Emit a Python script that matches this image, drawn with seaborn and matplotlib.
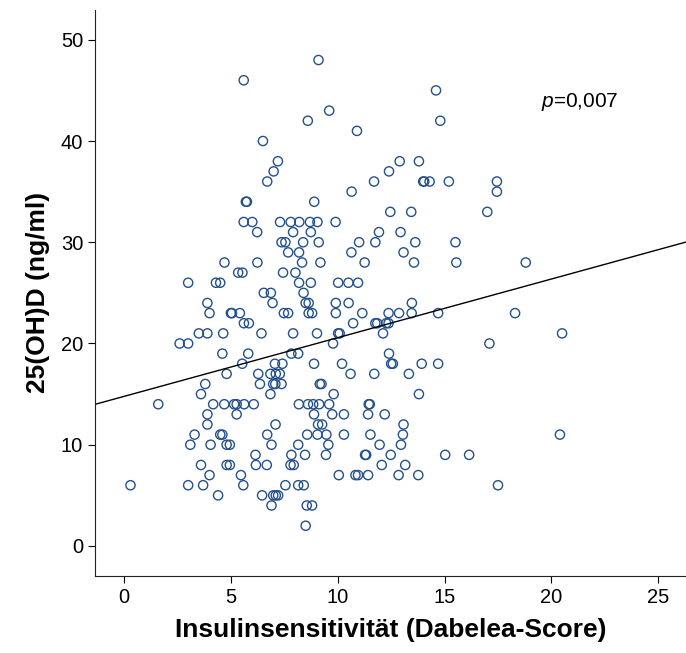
import numpy as np
import pandas as pd
import seaborn as sns
import matplotlib.pyplot as plt

ohd_levels = [48, 46, 45, 43, 42, 41, 40, 38, 37, 36, 35, 34, 33, 32, 31, 30, 29, 28,
              27, 26, 25, 24, 23, 22, 21, 20, 19, 18, 17, 16, 15, 14, 13, 12, 11, 10,
              9, 8, 7, 6, 5, 4, 2]
score_by_level = [
    [9.1],
    [5.6],
    [14.6],
    [9.6],
    [8.6, 14.8],
    [10.9],
    [6.5],
    [7.2, 12.9, 13.8],
    [7.0, 12.4],
    [6.7, 11.7, 14.0, 14.05, 14.3, 15.2, 17.45],
    [10.65, 17.45],
    [5.7, 5.75, 8.9],
    [12.46, 13.44, 17.0],
    [5.6, 6.0, 7.3, 7.8, 8.2, 8.7, 9.05, 9.9],
    [6.23, 7.91, 8.74, 11.93, 12.94],
    [7.37, 7.55, 8.38, 9.11, 11.0, 11.76, 13.63, 15.51],
    [7.68, 8.19, 10.64, 13.08],
    [4.7, 6.24, 8.33, 9.19, 11.26, 13.57, 15.55, 18.8],
    [5.34, 5.54, 7.44, 8.02],
    [3.0, 4.3, 4.5, 8.19, 8.74, 10.02, 10.5, 10.95],
    [6.54, 6.87, 8.40],
    [3.9, 6.95, 8.5, 8.64, 9.91, 10.51, 13.47],
    [4.0, 5.0, 5.05, 5.42, 7.48, 7.68, 8.64, 8.80, 9.91, 11.15, 12.38, 12.87, 13.46, 14.70, 18.3],
    [5.61, 5.84, 10.72, 11.76, 11.85, 12.27, 12.38],
    [3.5, 3.9, 4.64, 6.43, 7.91, 9.03, 10.02, 10.09, 12.12, 20.5],
    [2.6, 3.0, 9.78, 17.1],
    [4.6, 5.81, 7.83, 8.15, 12.40],
    [5.53, 7.06, 7.41, 8.89, 10.2, 12.5, 12.58, 13.93, 14.70],
    [4.8, 6.28, 6.85, 7.1, 7.29, 10.6, 11.71, 13.33],
    [3.8, 6.36, 6.98, 7.08, 7.37, 9.16, 9.24],
    [3.6, 6.85, 9.81, 13.8],
    [1.6, 4.17, 4.69, 5.15, 5.27, 5.62, 6.07, 8.18, 8.61, 8.85, 9.13, 9.6, 11.45, 11.5],
    [3.9, 5.27, 8.89, 9.74, 10.29, 11.42, 12.2],
    [3.9, 7.09, 9.08, 9.27, 13.08],
    [3.3, 4.5, 4.6, 6.70, 8.57, 9.05, 9.47, 10.29, 11.53, 13.05, 20.4],
    [3.1, 4.05, 4.8, 4.95, 6.9, 8.15, 9.56, 11.96, 12.96],
    [6.15, 7.83, 8.47, 9.45, 11.28, 11.33, 12.48, 15.03, 16.15],
    [3.6, 4.8, 4.95, 6.17, 6.68, 7.79, 7.94, 12.06, 13.16],
    [4.0, 5.47, 10.05, 10.83, 10.95, 11.42, 12.85, 13.77],
    [0.3, 3.0, 3.7, 5.58, 7.55, 8.15, 8.41, 17.5],
    [4.4, 6.46, 6.98, 7.1, 7.21],
    [6.9, 8.55, 8.8],
    [8.5],
]
x_ticks = [0, 5, 10, 15, 20, 25]
y_ticks = [0, 10, 20, 30, 40, 50]
p_text = "$p$=0,007"

df = pd.DataFrame({"ohd": ohd_levels, "score": score_by_level}).explode("score")
df["score"] = df["score"].astype(float)
df["ohd"] = df["ohd"].astype(float)

sns.set_style("ticks")
plt.rcParams["font.family"] = ["Liberation Sans", "DejaVu Sans"]
plt.rcParams["mathtext.fontset"] = "custom"
plt.rcParams["mathtext.rm"] = "Liberation Sans"
plt.rcParams["mathtext.it"] = "Liberation Sans:italic"
plt.rcParams["text.color"] = "black"
plt.rcParams["axes.labelcolor"] = "black"
plt.rcParams["xtick.color"] = "black"
plt.rcParams["ytick.color"] = "black"

fig, ax = plt.subplots(figsize=(6.86, 6.53), dpi=100)
fig.subplots_adjust(left=0.1385, right=1.0, bottom=0.118, top=0.985)
ax.set_xlim(-1.36, 26.3)
ax.set_ylim(-2.96, 52.96)

sns.scatterplot(data=df, x="score", y="ohd", ax=ax, marker="o", s=44,
                facecolors="none", edgecolor="#24508c", linewidth=1.0, legend=False)
sns.regplot(data=df, x="score", y="ohd", ax=ax, scatter=False, ci=None,
            truncate=False, line_kws=dict(color="black", lw=1.0))

ax.set_xticks(x_ticks)
ax.set_yticks(y_ticks)
ax.tick_params(labelsize=14.5, length=5, width=0.8)
ax.set_xlabel("Insulinsensitivität (Dabelea-Score)", fontsize=19, fontweight="bold",
              labelpad=8)
ax.set_ylabel("25(OH)D (ng/ml)", fontsize=19, fontweight="bold", labelpad=8)
ax.text(19.5, 43.9, p_text, fontsize=15, va="center")

sns.despine(ax=ax)
for s in ["left", "bottom"]:
    ax.spines[s].set_color("#222222")
    ax.spines[s].set_linewidth(0.8)

fig.savefig("out.png", dpi=100)
